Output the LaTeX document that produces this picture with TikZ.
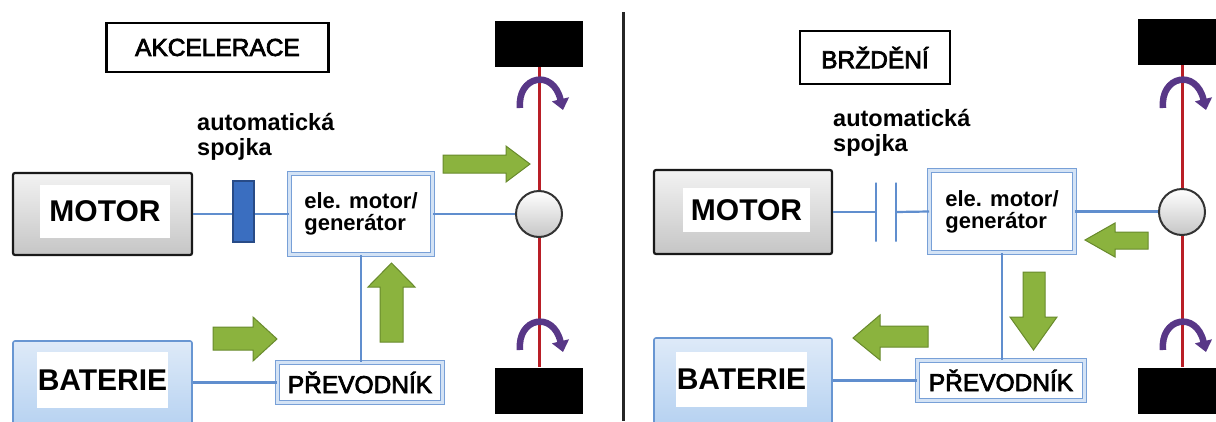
\documentclass[tikz,border=0pt]{standalone}
\usepackage{fontspec}
\setmainfont{Liberation Sans}
\newfontfamily\headfont[FakeBold=3]{Liberation Sans}
\usepackage{tikz}
\usetikzlibrary{arrows.meta}
\definecolor{wireblue}{RGB}{96,142,206}
\definecolor{unitedge}{RGB}{120,160,215}
\definecolor{unitband}{RGB}{212,227,245}
\definecolor{clutchblue}{RGB}{58,110,192}
\definecolor{clutchedge}{RGB}{40,75,135}
\definecolor{flowgreen}{RGB}{139,179,62}
\definecolor{flowedge}{RGB}{104,138,44}
\definecolor{axlered}{RGB}{185,30,38}
\definecolor{spinviolet}{RGB}{88,55,135}
\definecolor{battop}{RGB}{222,234,248}
\definecolor{batbot}{RGB}{176,206,240}
\definecolor{batedge}{RGB}{104,150,210}

\begin{document}
\begin{tikzpicture}[x=1pt,y=-1pt,
  modebox/.style={draw=black,line width=2.4pt,fill=white,inner sep=0pt,font=\fontsize{24.5}{26}\headfont},
  enginebox/.style={draw=black!90,line width=2.2pt,rounded corners=2pt,top color=gray!10,bottom color=gray!45},
  batbox/.style={draw=batedge,line width=1.6pt,rounded corners=2pt,top color=battop,bottom color=batbot},
  biglabel/.style={fill=white,inner sep=0pt,font=\fontsize{30}{36}\selectfont\bfseries},
  unit/.style={draw=unitedge,line width=1pt,double=unitband,double distance=3.5pt,fill=white,inner sep=0pt},
  unittext/.style={font=\fontsize{22}{22}\selectfont\bfseries,align=left},
  convtext/.style={font=\fontsize{24.5}{26}\headfont},
  note/.style={font=\fontsize{23.5}{25}\selectfont\bfseries,align=left,inner sep=0pt,anchor=north west},
  link/.style={draw=wireblue,line width=2.2pt},
  plate/.style={draw=wireblue,line width=2pt,minimum width=0pt,minimum height=59pt,inner sep=0pt},
  wheel/.style={fill=black,minimum width=88pt,minimum height=46pt,inner sep=0pt},
  hub/.style={circle,draw=black!80,line width=2pt,top color=white,bottom color=gray!45,minimum size=46pt,inner sep=0pt},
  axle/.style={draw=axlered,line width=3pt},
  flowarrow/.style={fill=flowgreen,draw=flowedge,line width=1pt},
  spin/.style={draw=spinviolet,line width=6.5pt,-{Triangle[length=11pt,width=17pt]}}]
\useasboundingbox[fill=white] (0,0) rectangle (1216,421);
\clip (0,0) rectangle (1216,421);

% akcelerace
\node[modebox,minimum width=222pt,minimum height=49pt] (modeL) at (217.5,47.5) {AKCELERACE};
\node[note] (clutchLtxt) at (197,113) {automatická\\spojka};
\node[enginebox,minimum width=179pt,minimum height=82pt] (motorL) at (102.5,214) {};
\node[biglabel,minimum width=130pt,minimum height=53pt] (motorLtxt) at (105,211.5) {MOTOR};
\node[batbox,minimum width=179pt,minimum height=100pt] (batL) at (102.5,391) {};
\node[biglabel,minimum width=131pt,minimum height=56pt] (batLtxt) at (102.5,380) {BATERIE};
\node[unit,unittext,minimum width=143pt,minimum height=81pt] (eleL) at (361,214) {ele. motor/\\generátor};
\node[unit,convtext,minimum width=165pt,minimum height=40pt] (prevL) at (360,382.5) {PŘEVODNÍK};
\node[wheel] (wheelLt) at (539,44) {};
\node[wheel] (wheelLb) at (539,390.5) {};
\draw[axle] (wheelLt.south) -- (wheelLb.north);
\node[hub] (hubL) at (539,214) {};
\draw[link] (motorL.east) -- (eleL.west);
\node[draw=clutchedge,line width=1.2pt,fill=clutchblue,minimum width=21pt,minimum height=61pt,inner sep=0pt] (clutchL) at (243.5,211.5) {};
\draw[link] (eleL.east) -- (eleL.east -| hubL.west);
\draw[link] (eleL.south) -- (eleL.south |- prevL.north);
\draw[link] (prevL.west) -- (prevL.west -| batL.east);
\draw[spin] (520,108) .. controls (517,76) and (553,68) .. (563,110);
\draw[spin] (520,350) .. controls (517,318) and (553,310) .. (563,352);
\draw[flowarrow] (443,155) -- (506,155) -- (506,146) -- (530,164) -- (506,182) -- (506,173) -- (443,173) -- cycle;
\draw[flowarrow] (213,327) -- (253,327) -- (253,317) -- (277,339) -- (253,361) -- (253,350) -- (213,350) -- cycle;
\draw[flowarrow] (380,342) -- (380,287) -- (368,287) -- (391.5,263) -- (415,287) -- (403,287) -- (403,342) -- cycle;

\draw[line width=3pt,black!85] (623,12) -- (623,421);

% brzdeni
\node[modebox,minimum width=150pt,minimum height=53pt] (modeR) at (875,57.5) {BRŽDĚNÍ};
\node[note] (clutchRtxt) at (833,109) {automatická\\spojka};
\node[enginebox,minimum width=178pt,minimum height=84pt] (motorR) at (743,212) {};
\node[biglabel,minimum width=127pt,minimum height=44pt] (motorRtxt) at (746.5,210) {MOTOR};
\node[batbox,minimum width=178pt,minimum height=100pt] (batR) at (743,388) {};
\node[biglabel,minimum width=131pt,minimum height=55pt] (batRtxt) at (741.5,379.5) {BATERIE};
\node[unit,unittext,minimum width=145pt,minimum height=82pt] (eleR) at (1002,211.5) {ele. motor/\\generátor};
\node[unit,convtext,minimum width=167pt,minimum height=40pt] (prevR) at (1001,380.5) {PŘEVODNÍK};
\node[plate] (plateA) at (876,212) {};
\node[plate] (plateB) at (896,212) {};
\node[wheel] (wheelRt) at (1182,42) {};
\node[wheel] (wheelRb) at (1182,390.5) {};
\draw[axle] (wheelRt.south) -- (wheelRb.north);
\node[hub] (hubR) at (1182,212) {};
\draw[link] (motorR.east) -- (plateA.center);
\draw[link] (plateB.center) -- (eleR.west);
\draw[link] (eleR.east) -- (eleR.east -| hubR.west);
\draw[link] (eleR.south) -- (eleR.south |- prevR.north);
\draw[link] (prevR.west) -- (prevR.west -| batR.east);
\draw[spin] (1163,108) .. controls (1160,76) and (1196,68) .. (1206,110);
\draw[spin] (1163,350) .. controls (1160,318) and (1196,310) .. (1206,352);
\draw[flowarrow] (1148,232) -- (1115,232) -- (1115,223) -- (1085,240) -- (1115,257) -- (1115,249) -- (1148,249) -- cycle;
\draw[flowarrow] (1023,272) -- (1023,317) -- (1010,317) -- (1033.5,350) -- (1057,317) -- (1045,317) -- (1045,272) -- cycle;
\draw[flowarrow] (928,326) -- (880,326) -- (880,315) -- (853,338) -- (880,360) -- (880,347) -- (928,347) -- cycle;
\end{tikzpicture}
\end{document}
